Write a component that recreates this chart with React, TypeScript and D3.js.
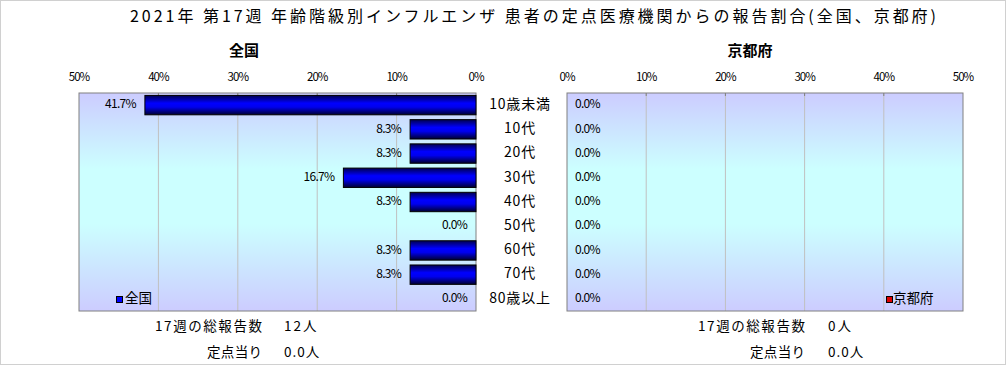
import React from 'react';
import * as d3 from 'd3';

// age groups, top to bottom
const categories = ['10歳未満', '10代', '20代', '30代', '40代', '50代', '60代', '70代', '80歳以上'];
// share of reports (%)
const nationalValues = [41.7, 8.3, 8.3, 16.7, 8.3, 0.0, 8.3, 8.3, 0.0];
const kyotoValues = [0, 0, 0, 0, 0, 0, 0, 0, 0];
const tickValues = [0, 10, 20, 30, 40, 50];

const title = '2021年 第17週 年齢階級別インフルエンザ 患者の定点医療機関からの報告割合(全国、京都府)';
const nationalSummary = ['17週の総報告数', '12人', '定点当り', '0.0人'];
const kyotoSummary = ['17週の総報告数', '0人', '定点当り', '0.0人'];

const W = 1006;
const H = 365;
const font = '"Noto Sans CJK JP", "Noto Sans", sans-serif';

export default function App() {
  const top = 93;
  const bottom = 311;
  const xLeft = d3.scaleLinear().domain([0, 50]).range([476, 79]);
  const xRight = d3.scaleLinear().domain([0, 50]).range([567, 963]);
  const y = d3.scaleBand<string>().domain(categories).range([top, bottom]).paddingInner(0.2).paddingOuter(0.1);

  const panel = (x: d3.ScaleLinear<number, number>, key: string) => {
    const [a, b] = x.range();
    const x0 = Math.min(a, b);
    const w = Math.abs(b - a);
    return (
      <g key={key}>
        <rect x={x0} y={top} width={w} height={bottom - top} fill="url(#bgGrad)" />
        {tickValues.slice(1, -1).map((t) => (
          <g key={t}>
            <line x1={x(t)} x2={x(t)} y1={top} y2={bottom} stroke="#c0c0c0" />
            <line x1={x(t)} x2={x(t)} y1={top} y2={top + 3} stroke="#808080" />
          </g>
        ))}
        <rect x={x0} y={top} width={w} height={bottom - top} fill="none" stroke="#808080" />
        {tickValues.map((t) => (
          <text key={t} x={x(t)} y={78} textAnchor="middle" dominantBaseline="middle"
            fontSize={11.5} letterSpacing={-1} fill="#000">{t}%</text>
        ))}
      </g>
    );
  };

  return (
    <svg width={W} height={H} style={{ position: 'absolute', left: 0, top: 0, fontFamily: font }}>
      <defs>
        <linearGradient id="bgGrad" x1="0" y1="0" x2="0" y2="1">
          <stop offset="0" stopColor="#ccccff" />
          <stop offset="0.35" stopColor="#ccffff" />
          <stop offset="0.6" stopColor="#ccffff" />
          <stop offset="1" stopColor="#ccccff" />
        </linearGradient>
        <linearGradient id="barGrad" x1="0" y1="0" x2="0" y2="1">
          <stop offset="0" stopColor="#000050" />
          <stop offset="0.4" stopColor="#0000ff" />
          <stop offset="0.6" stopColor="#0000ee" />
          <stop offset="1" stopColor="#000030" />
        </linearGradient>
      </defs>
      <rect x={0.5} y={0.5} width={W - 1} height={H - 1} fill="#fff" stroke="#d0d0d0" />

      <text x={130} y={18} dominantBaseline="middle" fontSize={16} textLength={806}
        lengthAdjust="spacing">{title}</text>
      <text x={244} y={52} textAnchor="middle" dominantBaseline="middle" fontSize={15}
        fontWeight="bold">全国</text>
      <text x={750} y={52} textAnchor="middle" dominantBaseline="middle" fontSize={15}
        fontWeight="bold">京都府</text>

      {panel(xLeft, 'left')}
      {panel(xRight, 'right')}

      {categories.map((c, i) => {
        const yc = (y(c) as number) + y.bandwidth() / 2;
        const v = nationalValues[i];
        const kv = kyotoValues[i];
        return (
          <g key={c}>
            {v > 0 && (
              <rect x={xLeft(v)} y={y(c)} width={xLeft(0) - xLeft(v)} height={y.bandwidth()}
                fill="url(#barGrad)" stroke="#000" />
            )}
            <text x={xLeft(v) - 9} y={yc} textAnchor="end" dominantBaseline="middle"
              fontSize={12} letterSpacing={-0.7}>{v.toFixed(1)}%</text>
            <text x={520} y={yc} textAnchor="middle" dominantBaseline="middle"
              fontSize={14} letterSpacing={0.8}>{c}</text>
            {kv > 0 && (
              <rect x={xRight(0)} y={y(c)} width={xRight(kv) - xRight(0)} height={y.bandwidth()}
                fill="#e00000" stroke="#000" />
            )}
            <text x={xRight(kv) + 8} y={yc} dominantBaseline="middle"
              fontSize={12} letterSpacing={-0.7}>{kv.toFixed(1)}%</text>
          </g>
        );
      })}

      {/* legends */}
      <rect x={116.5} y={296.5} width={6} height={6} fill="#0000ff" stroke="#000" />
      <text x={125} y={299} dominantBaseline="middle" fontSize={13.5}>全国</text>
      <rect x={886.5} y={296.5} width={6} height={6} fill="#e00000" stroke="#000" />
      <text x={893} y={299} dominantBaseline="middle" fontSize={13.5}>京都府</text>

      {/* summaries */}
      {[
        { s: nationalSummary, xr: 262, xv: 284 },
        { s: kyotoSummary, xr: 805, xv: 828 },
      ].map(({ s, xr, xv }, k) => (
        <g key={k} fontSize={13.5}>
          <text x={xr - 107} y={327} dominantBaseline="middle" textLength={107}
            lengthAdjust="spacing">{s[0]}</text>
          <text x={xv} y={327} dominantBaseline="middle" letterSpacing={2}>{s[1]}</text>
          <text x={xr - 55} y={353} dominantBaseline="middle" textLength={55}
            lengthAdjust="spacing">{s[2]}</text>
          <text x={xv} y={353} dominantBaseline="middle" letterSpacing={1}>{s[3]}</text>
        </g>
      ))}
    </svg>
  );
}
